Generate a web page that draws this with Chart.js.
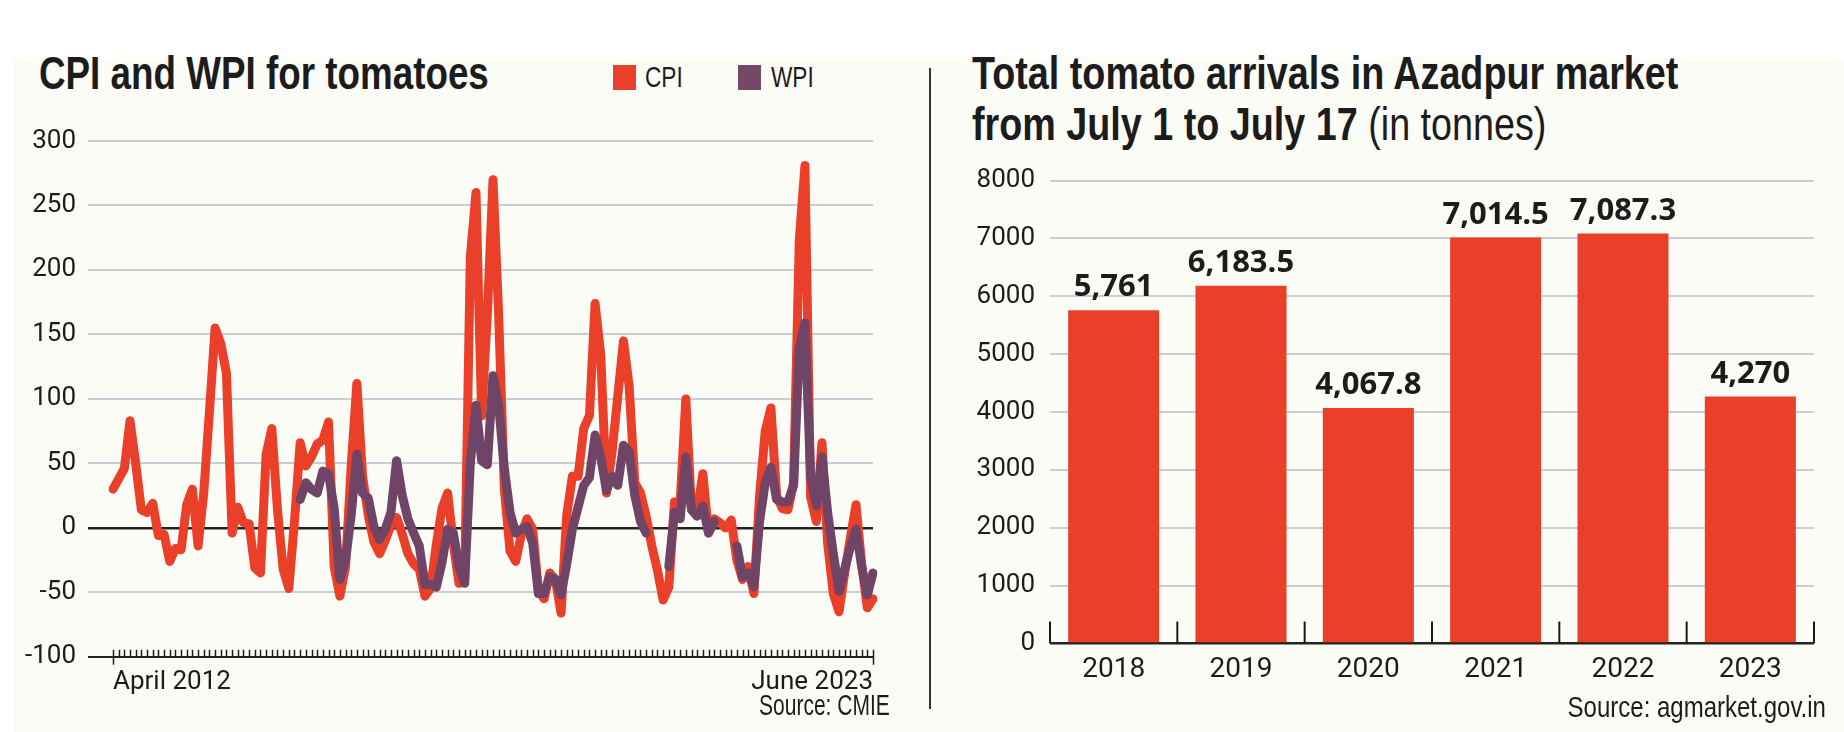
<!DOCTYPE html>
<html>
<head>
<meta charset="utf-8">
<script src="https://cdn.jsdelivr.net/npm/chart.js@4.4.0/dist/chart.umd.min.js"></script>
<style>
  html, body { margin: 0; padding: 0; background: #fff; }
  body { width: 1844px; height: 732px; position: relative; overflow: hidden;
         font-family: "Liberation Sans", Arial, sans-serif; color: #1c1c1c; }
  #panel { position: absolute; left: 14px; top: 58px; right: 0; bottom: 0; background: #fcfcf7; }
  .title { position: absolute; font-weight: bold; font-size: 46px; line-height: 51px;
           white-space: nowrap; transform: scaleX(0.82); transform-origin: left top; }
  .title .light { font-weight: normal; }
  .sq { position: absolute; top: 65px; width: 23px; height: 25px; }
  .legend { position: absolute; top: 59px; font-size: 29px; line-height: 36px;
            transform: scaleX(0.78); transform-origin: left top; }
  .source { position: absolute; line-height: 34px; white-space: nowrap; transform-origin: right top; }
  #sep { position: absolute; left: 929px; top: 68px; width: 2px; height: 641px; background: #333; }
  canvas { position: absolute; }
</style>
</head>
<body>
<div id="panel"></div>

<div class="title" style="left:39px; top:48px; transform: scaleX(0.8);">CPI and WPI for tomatoes</div>
<div class="sq" style="left:613px; background:#ea4029"></div>
<div class="legend" style="left:645px;">CPI</div>
<div class="sq" style="left:738px; background:#744866"></div>
<div class="legend" style="left:771px;">WPI</div>
<canvas id="lineChart" width="930" height="632" style="left:0; top:100px;"></canvas>
<div class="source" style="right:954px; top:688px; font-size:30px; transform: scaleX(0.7);">Source: CMIE</div>

<div id="sep"></div>

<div class="title" style="left:972px; top:48px;">Total tomato arrivals in Azadpur market<br>from July 1 to July 17 <span class="light">(in tonnes)</span></div>
<canvas id="barChart" width="904" height="582" style="left:940px; top:150px;"></canvas>
<div class="source" style="right:18px; top:690px; font-size:30px; transform: scaleX(0.8);">Source: agmarket.gov.in</div>

<script>
// Monthly index, April 2012 to June 2023
const monthNames = ['Jan', 'Feb', 'Mar', 'Apr', 'May', 'Jun', 'Jul', 'Aug', 'Sep', 'Oct', 'Nov', 'Dec'];
const months = [];
for (let y = 2012, m = 3; y < 2023 || m <= 5; m++) {
    if (m === 12) { m = 0; y++; }
    months.push(monthNames[m] + ' ' + y);
}

// CPI for tomatoes
const cpi = [
    30, 38, 46, 83, 50, 14, 12, 19, -6, -5, -26, -16,
    -17, 18, 30, -14, 27, 90, 155, 143, 120, -4, 16, 4,
    3, -31, -35, 57, 77, 14, -32, -47, 5, 66, 48, 55,
    65, 68, 82, -30, -53, -30, 48, 112, 40, 10, -11, -20,
    -10, 2, 8, -5, -20, -28, -32, -53, -47, -13, 15, 27,
    -12, -43, -42, 210, 260, 87, 165, 270, 165, 30, -18, -26,
    -5, 7, -1, -48, -55, -35, -40, -66, 10, 40, 40, 77,
    87, 174, 134, 27, 59, 102, 145, 110, 35, 27, 9, -14,
    -33, -56, -46, 20, 20, 100, 14, 12, 42, -4, 7, 4,
    0, 6, -25, -40, -30, -51, 25, 75, 93, 25, 15, 14,
    35, 223, 281, 24, 5, 66, -12, -51, -65, -35, -8, 18,
    -28, -62, -55
];

// WPI for tomatoes, starts Jan 2015, with gaps
const wpi = [
    null, null, null, null, null, null, null, null, null, null, null, null,
    null, null, null, null, null, null, null, null, null, null, null, null,
    null, null, null, null, null, null, null, null, null, 22, 35, 30,
    27, 44, 42, 15, -40, -25, 10, 57, 27, 23, 1, -9,
    -1, 12, 52, 25, 7, -4, -14, -44, -44, -46, -27, -1,
    -4, -30, -43, 50, 95, 52, 49, 118, 95, 46, 12, -4,
    -1, 1, -12, -51, -51, -38, -40, -52, -28, -1, 16, 33,
    39, 72, 55, 29, 40, 33, 64, 59, 25, 5, -4, null,
    null, null, -30, 12, 7, 55, 14, 9, 17, -4, 5, null,
    null, null, -14, -38, -35, -46, 5, 35, 47, 22, 20, 20,
    33, 139, 159, 40, 17, 55, 12, -20, -49, -32, -15, -1,
    -30, -52, -35
];

// Tomato arrivals in Azadpur, July 1-17 (tonnes)
const years = ['2018', '2019', '2020', '2021', '2022', '2023'];
const arrivals = [5761, 6183.5, 4067.8, 7014.5, 7087.3, 4270];

const RED = '#ea4029';
const PURPLE = '#6f4466';
const GRID = '#c7ced6';
const INK = '#1c1c1c';
const tickFont = { family: 'Roboto', size: 26 };

// small ticks along the time axis
const monthTicks = {
    id: 'monthTicks',
    afterDraw(chart) {
        const { ctx, chartArea, scales: { x } } = chart;
        const y0 = chartArea.bottom;
        ctx.save();
        ctx.strokeStyle = INK;
        ctx.lineWidth = 1.5;
        ctx.beginPath();
        months.forEach((m, i) => {
            const px = Math.round(x.getPixelForValue(i)) + 0.5;
            const end = (i === 0 || i === months.length - 1) ? y0 + 8 : y0;
            ctx.moveTo(px, y0 - 7);
            ctx.lineTo(px, end);
        });
        ctx.stroke();
        ctx.restore();
    }
};

// separators between the year bars
const yearTicks = {
    id: 'yearTicks',
    afterDraw(chart) {
        const { ctx, chartArea, scales: { x } } = chart;
        const y0 = chartArea.bottom;
        ctx.save();
        ctx.strokeStyle = INK;
        ctx.lineWidth = 2;
        ctx.beginPath();
        for (let i = 0; i <= years.length; i++) {
            let px;
            if (i === 0) px = chartArea.left;
            else if (i === years.length) px = chartArea.right;
            else px = (x.getPixelForValue(i - 1) + x.getPixelForValue(i)) / 2;
            ctx.moveTo(px, y0);
            ctx.lineTo(px, y0 - 22);
        }
        ctx.stroke();
        ctx.restore();
    }
};

// value labels above bars
const barLabels = {
    id: 'barLabels',
    afterDatasetsDraw(chart) {
        const { ctx } = chart;
        ctx.save();
        ctx.fillStyle = INK;
        ctx.font = 'bold 31px "Open Sans"';
        ctx.textAlign = 'center';
        ctx.textBaseline = 'bottom';
        chart.getDatasetMeta(0).data.forEach((bar, i) => {
            const txt = arrivals[i].toLocaleString('en-US', { maximumFractionDigits: 1 });
            ctx.fillText(txt, bar.x, bar.y - 7);
        });
        ctx.restore();
    }
};

new Chart(document.getElementById('lineChart'), {
    type: 'line',
    data: {
        labels: months,
        datasets: [
            { label: 'CPI', data: cpi, borderColor: RED, borderWidth: 9, order: 2 },
            { label: 'WPI', data: wpi, borderColor: PURPLE, borderWidth: 9, order: 1, spanGaps: false }
        ]
    },
    options: {
        responsive: false,
        animation: false,
        devicePixelRatio: 1,
        layout: { padding: { top: 41, right: 57, bottom: 24, left: 0 } },
        elements: {
            point: { radius: 0 },
            line: { tension: 0, borderJoinStyle: 'round', borderCapStyle: 'round' }
        },
        scales: {
            x: {
                grid: { display: false, drawTicks: false },
                border: { display: false },
                ticks: {
                    autoSkip: false, maxRotation: 0, align: 'inner', padding: 10,
                    color: INK, font: tickFont,
                    callback: (v, i) => i === 0 ? 'April 2012' : (i === months.length - 1 ? 'June 2023' : '')
                }
            },
            y: {
                min: -100, max: 300,
                border: { display: false },
                ticks: { stepSize: 50, padding: 12, color: INK, font: tickFont, callback: v => String(v) },
                grid: {
                    tickLength: 25,
                    color: c => (c.tick.value === 0 || c.tick.value === -100) ? '#222' : GRID,
                    lineWidth: c => c.tick.value === 0 ? 2.5 : 2
                },
                afterFit: s => { s.width = 113; }
            }
        },
        plugins: { legend: { display: false }, tooltip: { enabled: false } }
    },
    plugins: [monthTicks]
});

new Chart(document.getElementById('barChart'), {
    type: 'bar',
    data: {
        labels: years,
        datasets: [{
            label: 'Arrivals',
            data: arrivals,
            backgroundColor: RED,
            categoryPercentage: 1,
            barPercentage: 0.715
        }]
    },
    options: {
        responsive: false,
        animation: false,
        devicePixelRatio: 1,
        layout: { padding: { top: 26, right: 30, bottom: 35, left: 0 } },
        scales: {
            x: {
                grid: { display: false, drawTicks: false },
                border: { display: false },
                ticks: { padding: 10, color: INK, font: { family: 'Roboto', size: 28 } }
            },
            y: {
                min: 0, max: 8000,
                border: { display: false },
                ticks: { stepSize: 1000, padding: 15, color: INK, font: tickFont, callback: v => String(v) },
                grid: {
                    drawTicks: false,
                    color: c => c.tick.value === 0 ? '#222' : GRID,
                    lineWidth: c => c.tick.value === 0 ? 2.5 : 2
                },
                afterFit: s => { s.width = 110; }
            }
        },
        plugins: { legend: { display: false }, tooltip: { enabled: false } }
    },
    plugins: [yearTicks, barLabels]
});
</script>
</body>
</html>
